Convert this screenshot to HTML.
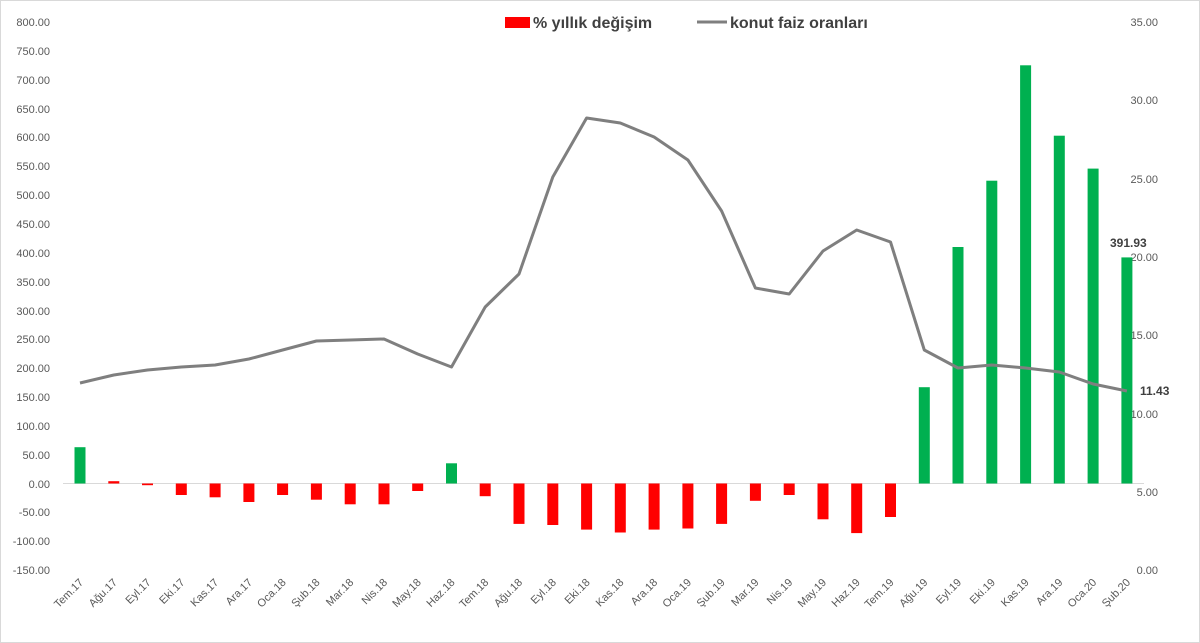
<!DOCTYPE html>
<html><head><meta charset="utf-8"><style>
body{margin:0;background:#fff}
svg{display:block;font-family:"Liberation Sans",sans-serif}
.l{font-size:11px;fill:#595959}
.x{font-size:11px;fill:#595959}
</style></head><body>
<svg width="1200" height="643" viewBox="0 0 1200 643">
<rect x="0.5" y="0.5" width="1199" height="642" fill="#fff" stroke="#d9d9d9"/>
<g class="l" text-anchor="end">
<text x="50" y="26">800.00</text><text x="50" y="55">750.00</text><text x="50" y="84">700.00</text><text x="50" y="113">650.00</text><text x="50" y="141">600.00</text><text x="50" y="170">550.00</text><text x="50" y="199">500.00</text><text x="50" y="228">450.00</text><text x="50" y="257">400.00</text><text x="50" y="286">350.00</text><text x="50" y="315">300.00</text><text x="50" y="343">250.00</text><text x="50" y="372">200.00</text><text x="50" y="401">150.00</text><text x="50" y="430">100.00</text><text x="50" y="459">50.00</text><text x="50" y="488">0.00</text><text x="50" y="516">-50.00</text><text x="50" y="545">-100.00</text><text x="50" y="574">-150.00</text>
</g>
<g class="l" text-anchor="end">
<text x="1158" y="26">35.00</text><text x="1158" y="104">30.00</text><text x="1158" y="183">25.00</text><text x="1158" y="261">20.00</text><text x="1158" y="339">15.00</text><text x="1158" y="418">10.00</text><text x="1158" y="496">5.00</text><text x="1158" y="574">0.00</text>
</g>
<line x1="63" y1="483.5" x2="1144" y2="483.5" stroke="#d9d9d9"/>
<g fill="#00b050">
<rect x="74.5" y="447.2" width="11" height="36.3"/>
<rect x="446" y="463.3" width="11" height="20.2"/>
<rect x="918.8" y="387.2" width="11" height="96.3"/>
<rect x="952.5" y="247" width="11" height="236.5"/>
<rect x="986.3" y="180.7" width="11" height="302.8"/>
<rect x="1020.1" y="65.3" width="11" height="418.2"/>
<rect x="1053.8" y="135.7" width="11" height="347.8"/>
<rect x="1087.6" y="168.6" width="11" height="314.9"/>
<rect x="1121.4" y="257.4" width="11" height="226.1"/>
</g>
<g fill="#ff0000">
<rect x="108.3" y="481.2" width="11" height="2.3"/>
<rect x="142" y="483.5" width="11" height="1.7"/>
<rect x="175.8" y="483.5" width="11" height="11.5"/>
<rect x="209.6" y="483.5" width="11" height="13.8"/>
<rect x="243.4" y="483.5" width="11" height="18.5"/>
<rect x="277.1" y="483.5" width="11" height="11.5"/>
<rect x="310.9" y="483.5" width="11" height="16.2"/>
<rect x="344.7" y="483.5" width="11" height="20.8"/>
<rect x="378.5" y="483.5" width="11" height="20.8"/>
<rect x="412.2" y="483.5" width="11" height="7.5"/>
<rect x="479.7" y="483.5" width="11" height="12.7"/>
<rect x="513.5" y="483.5" width="11" height="40.4"/>
<rect x="547.3" y="483.5" width="11" height="41.5"/>
<rect x="581.1" y="483.5" width="11" height="46.1"/>
<rect x="614.8" y="483.5" width="11" height="49"/>
<rect x="648.6" y="483.5" width="11" height="46.1"/>
<rect x="682.4" y="483.5" width="11" height="45"/>
<rect x="716.1" y="483.5" width="11" height="40.4"/>
<rect x="749.9" y="483.5" width="11" height="17.3"/>
<rect x="783.7" y="483.5" width="11" height="11.5"/>
<rect x="817.5" y="483.5" width="11" height="35.8"/>
<rect x="851.2" y="483.5" width="11" height="49.6"/>
<rect x="885" y="483.5" width="11" height="33.5"/>
</g>
<polyline fill="none" stroke="#7f7f7f" stroke-width="3" stroke-linejoin="round" points="80,383 113.8,375 147.5,370 181.3,367 215.1,365 248.9,359 282.6,350 316.4,341 350.2,340 384,339 417.7,354 451.5,367 485.2,307 519,274 552.8,177 586.6,118 620.3,123 654.1,137 687.9,160 721.6,211 755.4,288 789.2,294 823,251 856.7,230 890.5,242 924.3,350 958,368 991.8,365 1025.6,368 1059.3,372 1093.1,384 1126.9,391"/>
<text x="1110" y="247" font-size="12" font-weight="bold" fill="#404040">391.93</text>
<text x="1140" y="395" font-size="12" font-weight="bold" fill="#404040">11.43</text>
<g class="x" text-anchor="end">
<text transform="translate(84,583) rotate(-45)">Tem.17</text>
<text transform="translate(117.8,583) rotate(-45)">Ağu.17</text>
<text transform="translate(151.5,583) rotate(-45)">Eyl.17</text>
<text transform="translate(185.3,583) rotate(-45)">Eki.17</text>
<text transform="translate(219.1,583) rotate(-45)">Kas.17</text>
<text transform="translate(252.9,583) rotate(-45)">Ara.17</text>
<text transform="translate(286.6,583) rotate(-45)">Oca.18</text>
<text transform="translate(320.4,583) rotate(-45)">Şub.18</text>
<text transform="translate(354.2,583) rotate(-45)">Mar.18</text>
<text transform="translate(388,583) rotate(-45)">Nis.18</text>
<text transform="translate(421.7,583) rotate(-45)">May.18</text>
<text transform="translate(455.5,583) rotate(-45)">Haz.18</text>
<text transform="translate(489.2,583) rotate(-45)">Tem.18</text>
<text transform="translate(523,583) rotate(-45)">Ağu.18</text>
<text transform="translate(556.8,583) rotate(-45)">Eyl.18</text>
<text transform="translate(590.6,583) rotate(-45)">Eki.18</text>
<text transform="translate(624.3,583) rotate(-45)">Kas.18</text>
<text transform="translate(658.1,583) rotate(-45)">Ara.18</text>
<text transform="translate(691.9,583) rotate(-45)">Oca.19</text>
<text transform="translate(725.6,583) rotate(-45)">Şub.19</text>
<text transform="translate(759.4,583) rotate(-45)">Mar.19</text>
<text transform="translate(793.2,583) rotate(-45)">Nis.19</text>
<text transform="translate(827,583) rotate(-45)">May.19</text>
<text transform="translate(860.7,583) rotate(-45)">Haz.19</text>
<text transform="translate(894.5,583) rotate(-45)">Tem.19</text>
<text transform="translate(928.3,583) rotate(-45)">Ağu.19</text>
<text transform="translate(962,583) rotate(-45)">Eyl.19</text>
<text transform="translate(995.8,583) rotate(-45)">Eki.19</text>
<text transform="translate(1029.6,583) rotate(-45)">Kas.19</text>
<text transform="translate(1063.3,583) rotate(-45)">Ara.19</text>
<text transform="translate(1097.1,583) rotate(-45)">Oca.20</text>
<text transform="translate(1130.9,583) rotate(-45)">Şub.20</text>
</g>
<rect x="505" y="17" width="25" height="11" fill="#ff0000"/>
<text x="533" y="28" font-size="16" font-weight="bold" fill="#404040">% yıllık değişim</text>
<line x1="697" y1="22" x2="727" y2="22" stroke="#7f7f7f" stroke-width="3"/>
<text x="730" y="28" font-size="16" font-weight="bold" fill="#404040">konut faiz oranları</text>
</svg>
</body></html>
